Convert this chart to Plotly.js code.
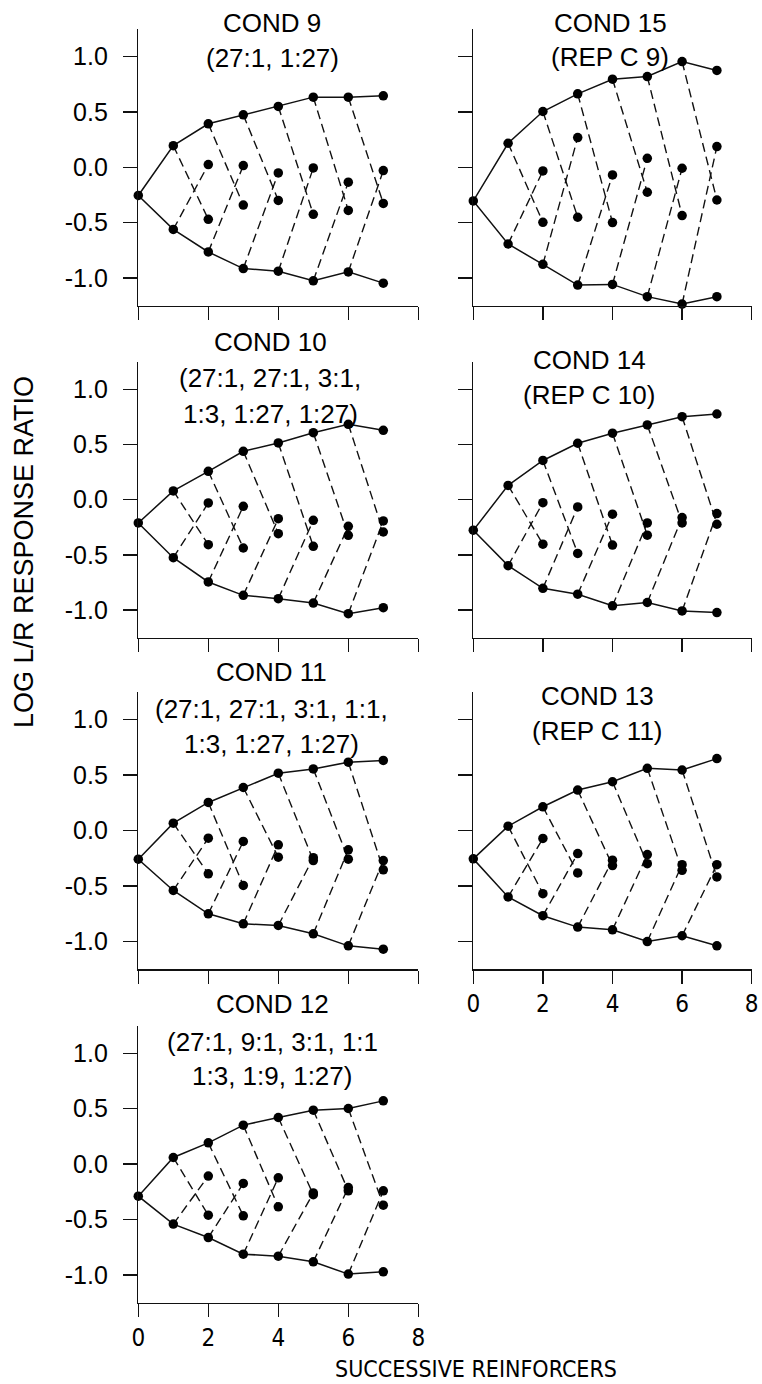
<!DOCTYPE html>
<html>
<head>
<meta charset="utf-8">
<script src="https://cdn.plot.ly/plotly-3.0.1.min.js"></script>
<style>
  html, body { margin: 0; padding: 0; background: #fff; }
  #chart { width: 762px; height: 1384px; }
</style>
</head>
<body>
<div id="chart"></div>
<script>
// ---------------- DATA ----------------
const reinforcers = [0, 1, 2, 3, 4, 5, 6, 7];
const xTickVals = [0, 2, 4, 6, 8];
const xTickText = ['0', '2', '4', '6', '8'];
const yTickVals = [-1.0, -0.5, 0.0, 0.5, 1.0];
const yTickText = ['-1.0', '-0.5', '0.0', '0.5', '1.0'];

// upper = successive left reinforcers, lower = successive right reinforcers (index 0 = start)
// afterUpper / afterLower = points at x = 2..7 reached by the dashed branches
const cond9_upper = [-0.255, 0.195, 0.393, 0.474, 0.550, 0.634, 0.634, 0.646];
const cond9_lower = [-0.255, -0.562, -0.766, -0.916, -0.940, -1.027, -0.946, -1.048];
const cond9_afterUpper = [-0.471, -0.342, -0.300, -0.426, -0.390, -0.327];
const cond9_afterLower = [0.024, 0.015, -0.051, -0.006, -0.135, -0.030];

const cond15_upper = [-0.305, 0.217, 0.504, 0.664, 0.796, 0.820, 0.956, 0.875];
const cond15_lower = [-0.305, -0.694, -0.878, -1.065, -1.059, -1.170, -1.237, -1.170];
const cond15_afterUpper = [-0.498, -0.452, -0.500, -0.226, -0.437, -0.296];
const cond15_afterLower = [-0.033, 0.268, -0.069, 0.081, -0.009, 0.187];

const cond10_upper = [-0.211, 0.079, 0.257, 0.438, 0.514, 0.607, 0.683, 0.628];
const cond10_lower = [-0.211, -0.526, -0.746, -0.867, -0.897, -0.937, -1.033, -0.979];
const cond10_afterUpper = [-0.408, -0.438, -0.308, -0.423, -0.323, -0.293];
const cond10_afterLower = [-0.030, -0.060, -0.172, -0.187, -0.242, -0.193];

const cond14_upper = [-0.277, 0.129, 0.355, 0.511, 0.602, 0.677, 0.752, 0.776];
const cond14_lower = [-0.277, -0.598, -0.803, -0.857, -0.962, -0.932, -1.008, -1.023];
const cond14_afterUpper = [-0.403, -0.487, -0.412, -0.322, -0.211, -0.223];
const cond14_afterLower = [-0.027, -0.066, -0.132, -0.211, -0.162, -0.126];

const cond11_upper = [-0.259, 0.066, 0.253, 0.388, 0.517, 0.556, 0.617, 0.632];
const cond11_lower = [-0.259, -0.541, -0.752, -0.842, -0.857, -0.932, -1.041, -1.071];
const cond11_afterUpper = [-0.391, -0.496, -0.241, -0.271, -0.259, -0.355];
const cond11_afterLower = [-0.069, -0.099, -0.129, -0.245, -0.174, -0.271];

const cond13_upper = [-0.256, 0.039, 0.214, 0.365, 0.440, 0.561, 0.546, 0.649];
const cond13_lower = [-0.256, -0.600, -0.769, -0.872, -0.896, -1.002, -0.950, -1.041];
const cond13_afterUpper = [-0.570, -0.383, -0.317, -0.299, -0.359, -0.419];
const cond13_afterLower = [-0.072, -0.208, -0.268, -0.217, -0.308, -0.308];

const cond12_upper = [-0.289, 0.060, 0.192, 0.352, 0.421, 0.487, 0.502, 0.571];
const cond12_lower = [-0.289, -0.541, -0.662, -0.812, -0.830, -0.881, -0.992, -0.971];
const cond12_afterUpper = [-0.460, -0.466, -0.385, -0.275, -0.241, -0.370];
const cond12_afterLower = [-0.108, -0.174, -0.123, -0.260, -0.211, -0.241];

const cond9_title = ['COND 9', '(27:1, 1:27)'];
const cond15_title = ['COND 15', '(REP C 9)'];
const cond10_title = ['COND 10', '(27:1, 27:1, 3:1,', '1:3, 1:27, 1:27)'];
const cond14_title = ['COND 14', '(REP C 10)'];
const cond11_title = ['COND 11', '(27:1, 27:1, 3:1, 1:1,', '1:3, 1:27, 1:27)'];
const cond13_title = ['COND 13', '(REP C 11)'];
const cond12_title = ['COND 12', '(27:1, 9:1, 3:1, 1:1', '1:3, 1:9, 1:27)'];

const xAxisTitle = 'SUCCESSIVE REINFORCERS';
const yAxisTitle = 'LOG L/R RESPONSE RATIO';

// ---------------- LAYOUT HELPERS ----------------
const W = 762, H = 1384;
const px = v => v / W;
const py = v => 1 - v / H;
const colX = [[138.3, 418.3], [473.3, 751.7]];
const rowY = [[29, 305.5], [361.7, 637.6], [692, 969], [1025.6, 1302.7]];

const panels = [
  {up: cond9_upper,  low: cond9_lower,  au: cond9_afterUpper,  al: cond9_afterLower,  title: cond9_title,  col: 0, row: 0, tx: 272, ty: [22.5, 58]},
  {up: cond15_upper, low: cond15_lower, au: cond15_afterUpper, al: cond15_afterLower, title: cond15_title, col: 1, row: 0, tx: 610, ty: [22.5, 57.5]},
  {up: cond10_upper, low: cond10_lower, au: cond10_afterUpper, al: cond10_afterLower, title: cond10_title, col: 0, row: 1, tx: 270, ty: [342, 378, 414]},
  {up: cond14_upper, low: cond14_lower, au: cond14_afterUpper, al: cond14_afterLower, title: cond14_title, col: 1, row: 1, tx: 589, ty: [360, 395]},
  {up: cond11_upper, low: cond11_lower, au: cond11_afterUpper, al: cond11_afterLower, title: cond11_title, col: 0, row: 2, tx: 271, ty: [672, 709, 744]},
  {up: cond13_upper, low: cond13_lower, au: cond13_afterUpper, al: cond13_afterLower, title: cond13_title, col: 1, row: 2, tx: 597, ty: [696, 730.5]},
  {up: cond12_upper, low: cond12_lower, au: cond12_afterUpper, al: cond12_afterLower, title: cond12_title, col: 0, row: 3, tx: 272, ty: [1004, 1042, 1076]}
];

const FONT = 'Liberation Sans, Arial, Helvetica, sans-serif';
const NARROW = 'Liberation Sans Narrow, Arial Narrow, DejaVu Sans Condensed, sans-serif';
const INK = '#111';

const traces = [];
const layout = {
  width: W, height: H,
  margin: {l: 0, r: 0, t: 0, b: 0},
  paper_bgcolor: '#fff', plot_bgcolor: '#fff',
  showlegend: false,
  annotations: []
};

panels.forEach((p, i) => {
  const n = i + 1;
  const xa = n === 1 ? 'x' : 'x' + n;
  const ya = n === 1 ? 'y' : 'y' + n;

  // solid envelopes
  const sx = [], sy = [];
  reinforcers.forEach((x, k) => { sx.push(x); sy.push(p.up[k]); });
  sx.push(null); sy.push(null);
  reinforcers.forEach((x, k) => { sx.push(x); sy.push(p.low[k]); });
  traces.push({x: sx, y: sy, xaxis: xa, yaxis: ya, type: 'scatter', mode: 'lines',
    line: {color: INK, width: 1.5}, cliponaxis: false, hoverinfo: 'skip'});

  // dashed branches
  const dx = [], dy = [];
  for (let k = 2; k < reinforcers.length; k++) {
    dx.push(reinforcers[k - 1], reinforcers[k], null);
    dy.push(p.up[k - 1], p.au[k - 2], null);
    dx.push(reinforcers[k - 1], reinforcers[k], null);
    dy.push(p.low[k - 1], p.al[k - 2], null);
  }
  traces.push({x: dx, y: dy, xaxis: xa, yaxis: ya, type: 'scatter', mode: 'lines',
    line: {color: INK, width: 1.4, dash: '9px,5px'}, cliponaxis: false, hoverinfo: 'skip'});

  // points
  const mx = [], my = [];
  reinforcers.forEach((x, k) => { mx.push(x); my.push(p.up[k]); });
  reinforcers.forEach((x, k) => { if (k > 0) { mx.push(x); my.push(p.low[k]); } });
  for (let k = 2; k < reinforcers.length; k++) {
    mx.push(reinforcers[k], reinforcers[k]);
    my.push(p.au[k - 2], p.al[k - 2]);
  }
  traces.push({x: mx, y: my, xaxis: xa, yaxis: ya, type: 'scatter', mode: 'markers',
    marker: {color: '#000', size: 9.5}, cliponaxis: false});

  const isLeft = p.col === 0;
  const showX = (n === 6 || n === 7);
  const cx = colX[p.col], ry = rowY[p.row];

  layout['xaxis' + (n === 1 ? '' : n)] = {
    domain: [px(cx[0]), px(cx[1])],
    anchor: ya,
    range: [0, 8],
    tickvals: xTickVals, ticktext: xTickText,
    showticklabels: showX,
    ticks: 'outside', ticklen: 13, tickwidth: 1.5, tickcolor: INK,
    showline: true, linecolor: INK, linewidth: 1.5,
    showgrid: false, zeroline: false,
    tickfont: {family: NARROW, size: 24, color: '#000'},
    ticklabelstandoff: 0,
    fixedrange: true
  };
  layout['yaxis' + (n === 1 ? '' : n)] = {
    domain: [py(ry[1]), py(ry[0])],
    anchor: xa,
    range: [-1.25, 1.25],
    tickvals: yTickVals, ticktext: yTickText,
    showticklabels: isLeft,
    ticks: 'outside', ticklen: 14, tickwidth: 1.5, tickcolor: INK,
    showline: true, linecolor: INK, linewidth: 1.5,
    showgrid: false, zeroline: false,
    tickfont: {family: FONT, size: 25, color: '#000'},
    ticklabelstandoff: 10,
    fixedrange: true
  };

  p.title.forEach((t, j) => {
    layout.annotations.push({
      text: t, xref: 'paper', yref: 'paper',
      x: px(p.tx), y: py(p.ty[j]), xanchor: 'center', yanchor: 'middle',
      showarrow: false, font: {family: FONT, size: 26, color: '#000'}
    });
  });
});

layout.annotations.push({
  text: xAxisTitle, xref: 'paper', yref: 'paper',
  x: px(333), y: py(1383.5), xanchor: 'left', yanchor: 'bottom',
  showarrow: false, font: {family: NARROW, size: 23, color: '#000'}
});
layout.annotations.push({
  text: yAxisTitle, xref: 'paper', yref: 'paper',
  x: px(24), y: py(552), xanchor: 'center', yanchor: 'middle', textangle: -90,
  showarrow: false, font: {family: FONT, size: 27, color: '#000'}
});

Plotly.newPlot('chart', traces, layout, {displayModeBar: false, staticPlot: true});
</script>
</body>
</html>
